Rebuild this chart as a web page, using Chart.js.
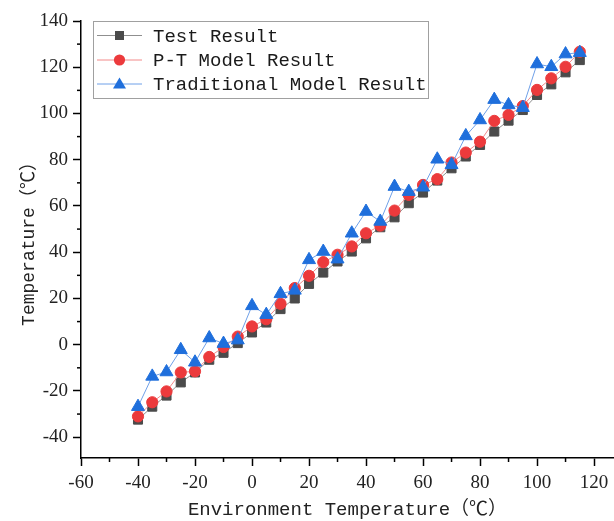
<!DOCTYPE html>
<html>
<head>
<meta charset="utf-8">
<script src="https://cdn.jsdelivr.net/npm/chart.js@4"></script>
<style>
  body { margin: 0; background: #fff; }
  #wrap { width: 614px; height: 521px; }
</style>
</head>
<body>
<div id="wrap"><canvas id="tempChart" width="614" height="521"></canvas></div>
<script>
// environment temperature (x) for every sample
const envTemps = [-40, -35, -30, -25, -20, -15, -10, -5, 0, 5, 10, 15, 20, 25, 30, 35,
                  40, 45, 50, 55, 60, 65, 70, 75, 80, 85, 90, 95, 100, 105, 110, 115];
const testResult = [-32.4, -26.8, -22, -16.3, -12, -6.5, -3.5, 0.7, 5.3, 9.6, 15.4, 20, 26.3, 31.2, 36, 40.3,
                    46, 50.8, 55.1, 61.2, 65.8, 71, 76.3, 81.4, 86.4, 92.2, 96.9, 101.5, 108, 112.6, 117.8, 123.1];
const ptModel = [-31, -24.9, -20.2, -12, -11.5, -5.3, -1, 3.5, 7.9, 11, 17.7, 24.5, 29.8, 35.7, 38.9, 42.5,
                 48.2, 51.5, 58, 64.8, 69.1, 71.6, 78.8, 83.1, 87.8, 96.8, 99.4, 103.2, 110.2, 115.2, 120.2, 126.7];
const tradModel = [-26.8, -13.7, -11.8, -2.2, -7.6, 2.9, 0.5, 2, 16.8, 13, 22, 23.5, 36.7, 40.3, 37, 48.2,
                   57.6, 53.3, 68.4, 66.2, 68.1, 80.2, 77.8, 90.3, 97.2, 106, 103.7, 102.5, 121.4, 120.2, 125.7, 126.3];
const seriesNames = ['Test Result', 'P-T Model Result', 'Traditional Model Result'];

const mono = "'Liberation Mono', 'Noto Sans CJK SC', monospace";
const serif = "'Liberation Serif', 'DejaVu Serif', serif";

function pts(ys) {
  return envTemps.map((x, i) => ({ x: x, y: ys[i] }));
}

const styles = [
  { line: '#8f8f8f', fill: '#4b4b4b', shape: 'rect', r: 6.4 },
  { line: '#f28a8a', fill: '#ec3a3c', shape: 'circle', r: 5.6 },
  { line: '#6fa0e8', fill: '#1f6fdc', shape: 'triangle', r: 7.5 }
];

const data = {
  datasets: [testResult, ptModel, tradModel].map((ys, i) => ({
    label: seriesNames[i],
    data: pts(ys),
    showLine: true,
    borderColor: styles[i].line,
    borderWidth: 1,
    pointStyle: styles[i].shape,
    pointRadius: styles[i].r,
    pointBackgroundColor: styles[i].fill,
    pointBorderColor: styles[i].fill,
    pointBorderWidth: 1,
    order: 2 - i
  }))
};

// short minor ticks (every 10 that is not a labelled 20)
const minorTicks = {
  id: 'minorTicks',
  afterDraw(chart) {
    const ctx = chart.ctx;
    ctx.save();
    ctx.strokeStyle = '#000';
    ctx.lineWidth = 1.5;
    const xs = chart.scales.x, ys = chart.scales.y;
    xs.ticks.forEach(t => {
      if (t.value % 20 !== 0) {
        const px = xs.getPixelForValue(t.value);
        ctx.beginPath(); ctx.moveTo(px, xs.top); ctx.lineTo(px, xs.top + 4); ctx.stroke();
      }
    });
    ys.ticks.forEach(t => {
      if (t.value % 20 !== 0) {
        const py = ys.getPixelForValue(t.value);
        ctx.beginPath(); ctx.moveTo(ys.right, py); ctx.lineTo(ys.right - 4, py); ctx.stroke();
      }
    });
    ctx.restore();
  }
};

// boxed legend inside the plot, marker drawn over a short line
const boxLegend = {
  id: 'boxLegend',
  afterDraw(chart) {
    const ctx = chart.ctx;
    ctx.save();
    ctx.fillStyle = '#fff';
    ctx.fillRect(93, 21, 335, 78);
    ctx.strokeStyle = '#a0a0a0';
    ctx.lineWidth = 1;
    ctx.strokeRect(93.5, 21.5, 335, 77);
    const rows = [35.5, 60, 84];
    seriesNames.forEach((name, i) => {
      const y = rows[i], s = styles[i];
      ctx.strokeStyle = s.line;
      ctx.lineWidth = 1;
      ctx.beginPath(); ctx.moveTo(97, y); ctx.lineTo(142, y); ctx.stroke();
      ctx.fillStyle = s.fill;
      const cx = 119.5;
      if (s.shape === 'rect') {
        ctx.fillRect(cx - 4.5, y - 4.5, 9, 9);
      } else if (s.shape === 'circle') {
        ctx.beginPath(); ctx.arc(cx, y, 5.6, 0, Math.PI * 2); ctx.fill();
      } else {
        ctx.beginPath();
        ctx.moveTo(cx, y - 6.5); ctx.lineTo(cx + 6.5, y + 4.5); ctx.lineTo(cx - 6.5, y + 4.5);
        ctx.closePath(); ctx.fill();
      }
      ctx.fillStyle = '#1a1a1a';
      ctx.font = '19px ' + mono;
      ctx.textBaseline = 'middle';
      ctx.fillText(name, 153, y + 1);
    });
    ctx.restore();
  }
};

const tickColor = c => (c.tick && c.tick.value % 20 === 0 ? '#000' : 'rgba(0,0,0,0)');

const config = {
  type: 'scatter',
  data: data,
  options: {
    responsive: false,
    animation: false,
    layout: { autoPadding: false, padding: { top: 21, left: 0, right: 0, bottom: 0 } },
    plugins: { legend: { display: false }, tooltip: { enabled: false } },
    scales: {
      x: {
        type: 'linear',
        min: -60,
        max: 127,
        afterFit: s => { s.height = 63; s.paddingRight = 0; },
        ticks: {
          stepSize: 10,
          includeBounds: false,
          autoSkip: false,
          maxRotation: 0,
          padding: 6,
          color: '#222',
          font: { family: serif, size: 19 },
          callback: v => (v % 20 === 0 ? String(v) : '')
        },
        grid: { drawOnChartArea: false, tickLength: 8, tickWidth: 1.5, tickColor: tickColor },
        border: { color: '#000', width: 1.5 },
        title: {
          display: true,
          text: 'Environment Temperature（℃）',
          color: '#222',
          font: { family: mono, size: 19 },
          padding: { top: 0, bottom: 0 }
        }
      },
      y: {
        min: -49,
        max: 140,
        afterFit: s => { s.width = 81; },
        ticks: {
          stepSize: 10,
          includeBounds: false,
          autoSkip: false,
          padding: 5,
          color: '#222',
          font: { family: serif, size: 19 },
          callback: v => (v % 20 === 0 ? String(v) : '')
        },
        grid: { drawOnChartArea: false, tickLength: 8, tickWidth: 1.5, tickColor: tickColor },
        border: { color: '#000', width: 1.5 },
        title: {
          display: true,
          text: 'Temperature（℃）',
          color: '#222',
          font: { family: mono, size: 18 },
          padding: { top: 18, bottom: 0 }
        }
      }
    }
  },
  plugins: [minorTicks, boxLegend]
};

const tempChart = new Chart(document.getElementById('tempChart'), config);
</script>
</body>
</html>
